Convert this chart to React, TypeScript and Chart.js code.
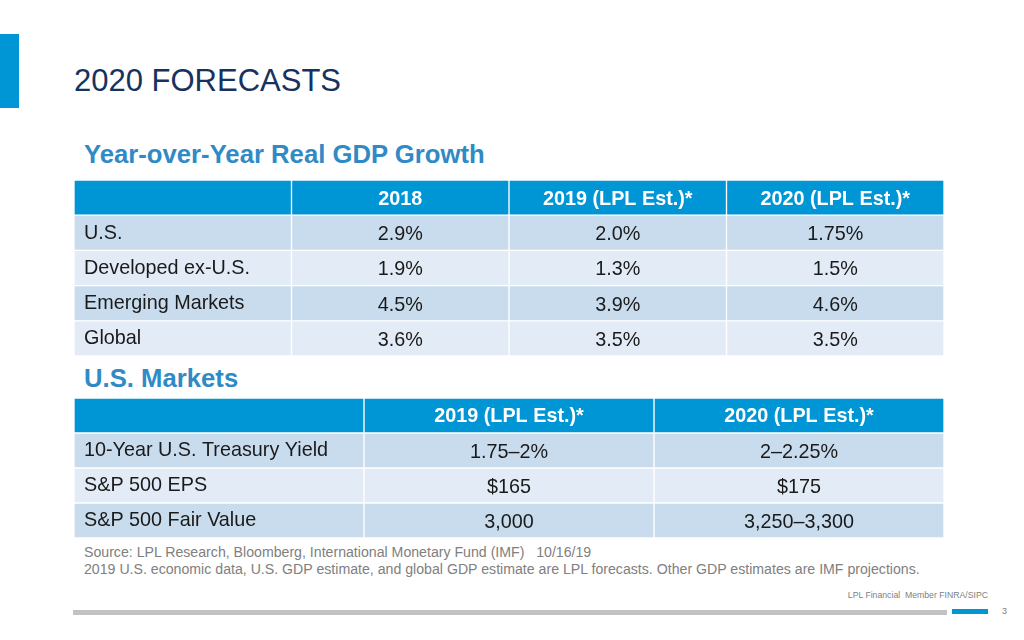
import React, { useEffect, useRef } from "react";
import { Chart, registerables } from "chart.js";

Chart.register(...registerables);

// ---------- Data ----------
const gdpHeaders = ["", "2018", "2019 (LPL Est.)*", "2020 (LPL Est.)*"];
const gdpRegions = ["U.S.", "Developed ex-U.S.", "Emerging Markets", "Global"];
const gdp2018 = ["2.9%", "1.9%", "4.5%", "3.6%"];
const gdp2019 = ["2.0%", "1.3%", "3.9%", "3.5%"];
const gdp2020 = ["1.75%", "1.5%", "4.6%", "3.5%"];

const marketHeaders = ["", "2019 (LPL Est.)*", "2020 (LPL Est.)*"];
const marketItems = ["10-Year U.S. Treasury Yield", "S&P 500 EPS", "S&P 500 Fair Value"];
const market2019 = ["1.75–2%", "$165", "3,000"];
const market2020 = ["2–2.25%", "$175", "3,250–3,300"];

const pageTitle = "2020 FORECASTS";
const gdpTitle = "Year-over-Year Real GDP Growth";
const marketTitle = "U.S. Markets";
const sourceLines = [
  "Source: LPL Research, Bloomberg, International Monetary Fund (IMF)   10/16/19",
  "2019 U.S. economic data, U.S. GDP estimate, and global GDP estimate are LPL forecasts. Other GDP estimates are IMF projections.",
];
const footerText = "LPL Financial  Member FINRA/SIPC";
const pageNumber = "3";

// ---------- Styles ----------
const FONT = '"Liberation Sans", Arial, Helvetica, sans-serif';
const HEADER_BG = "#0096d6";
const ROW_DARK = "#c9dcee";
const ROW_LIGHT = "#e3ecf6";
const NAVY = "#17325e";
const STEEL = "#2f8ac6";
const GRAY_TEXT = "#808080";

type TableProps = {
  headers: string[];
  rowLabels: string[];
  valueColumns: string[][];
  left: number;
  top: number;
  width: number;
  height: number;
};

function TableChart({ headers, rowLabels, valueColumns, left, top, width, height }: TableProps) {
  const ref = useRef<HTMLCanvasElement | null>(null);

  useEffect(() => {
    if (!ref.current) return;
    const nCols = headers.length;
    const columns: string[][] = [rowLabels, ...valueColumns];
    const rowColors = ["header", ...rowLabels].map((_, r) =>
      r === 0 ? HEADER_BG : r % 2 === 1 ? ROW_DARK : ROW_LIGHT
    );

    const textPlugin = {
      id: "cellText",
      afterDatasetsDraw(chart: any) {
        const ctx = chart.ctx;
        ctx.save();
        ctx.textBaseline = "middle";
        chart.data.datasets.forEach((_: any, c: number) => {
          const meta = chart.getDatasetMeta(c);
          meta.data.forEach((el: any, r: number) => {
            const p = el.getProps(["x", "y", "base"], true);
            const x0 = Math.min(p.x, p.base);
            const x1 = Math.max(p.x, p.base);
            if (r === 0) {
              ctx.font = `bold 19.8px ${FONT}`;
              ctx.fillStyle = "#ffffff";
              ctx.textAlign = "center";
              ctx.fillText(headers[c], (x0 + x1) / 2, p.y + 1.5);
            } else {
              const text = columns[c][r - 1];
              ctx.font = `19.8px ${FONT}`;
              ctx.fillStyle = "#1a1a1a";
              if (c === 0) {
                ctx.textAlign = "left";
                ctx.fillText(text, x0 + 10, p.y + 0.5);
              } else {
                ctx.textAlign = "center";
                ctx.fillText(text, (x0 + x1) / 2, p.y + 2);
              }
            }
          });
        });
        ctx.restore();
      },
    };

    const chart = new Chart(ref.current, {
      type: "bar",
      data: {
        labels: ["header", ...rowLabels],
        datasets: headers.map((h, c) => ({
          label: h || "label",
          data: ["header", ...rowLabels].map(() => [c, c + 1]),
          backgroundColor: rowColors,
          borderColor: "#ffffff",
          borderWidth: 1,
          borderSkipped: false,
          categoryPercentage: 1,
          barPercentage: 1,
          grouped: false,
        })),
      } as any,
      options: {
        indexAxis: "y",
        responsive: false,
        animation: false,
        events: [],
        layout: { padding: 0 },
        scales: {
          x: { type: "linear", min: 0, max: nCols, display: false },
          y: { type: "category", display: false, offset: true, grid: { display: false } },
        },
        plugins: {
          legend: { display: false },
          tooltip: { enabled: false },
          title: { display: false },
        },
      } as any,
      plugins: [textPlugin],
    });
    return () => chart.destroy();
  }, []);

  return (
    <canvas
      ref={ref}
      width={width}
      height={height}
      style={{ position: "absolute", left, top, width, height }}
    />
  );
}

const headingStyle = (top: number): React.CSSProperties => ({
  position: "absolute",
  left: 84,
  top,
  fontSize: 25.7,
  lineHeight: "25.7px",
  fontWeight: "bold",
  color: STEEL,
  whiteSpace: "nowrap",
});

export default function App() {
  return (
    <div
      style={{
        position: "fixed",
        left: 0,
        top: 0,
        width: 1024,
        height: 640,
        background: "#ffffff",
        overflow: "hidden",
        fontFamily: FONT,
      }}
    >
      <div style={{ position: "absolute", left: 0, top: 34, width: 19, height: 74, background: HEADER_BG }} />
      <div
        style={{
          position: "absolute",
          left: 74,
          top: 65,
          fontSize: 31,
          lineHeight: "31px",
          color: NAVY,
          whiteSpace: "nowrap",
        }}
      >
        {pageTitle}
      </div>
      <div style={headingStyle(141.7)}>{gdpTitle}</div>
      <TableChart
        headers={gdpHeaders}
        rowLabels={gdpRegions}
        valueColumns={[gdp2018, gdp2019, gdp2020]}
        left={74}
        top={180}
        width={870}
        height={176}
      />
      <div style={headingStyle(366.3)}>{marketTitle}</div>
      <TableChart
        headers={marketHeaders}
        rowLabels={marketItems}
        valueColumns={[market2019, market2020]}
        left={74}
        top={398}
        width={870}
        height={140}
      />
      {sourceLines.map((line, i) => (
        <div
          key={i}
          style={{
            position: "absolute",
            left: 84,
            top: 544 + i * 17.3,
            fontSize: 14.15,
            lineHeight: "16px",
            color: GRAY_TEXT,
            whiteSpace: "pre",
          }}
        >
          {line}
        </div>
      ))}
      <div
        style={{
          position: "absolute",
          right: 1024 - 988,
          top: 590,
          fontSize: 8.7,
          lineHeight: "11px",
          color: GRAY_TEXT,
          whiteSpace: "pre",
        }}
      >
        {footerText}
      </div>
      <div style={{ position: "absolute", left: 73, top: 610, width: 874, height: 5, background: "#c2c2c2" }} />
      <div style={{ position: "absolute", left: 952, top: 609, width: 36, height: 5, background: HEADER_BG }} />
      <div
        style={{
          position: "absolute",
          left: 1002,
          top: 606,
          fontSize: 9,
          lineHeight: "11px",
          color: GRAY_TEXT,
        }}
      >
        {pageNumber}
      </div>
    </div>
  );
}
